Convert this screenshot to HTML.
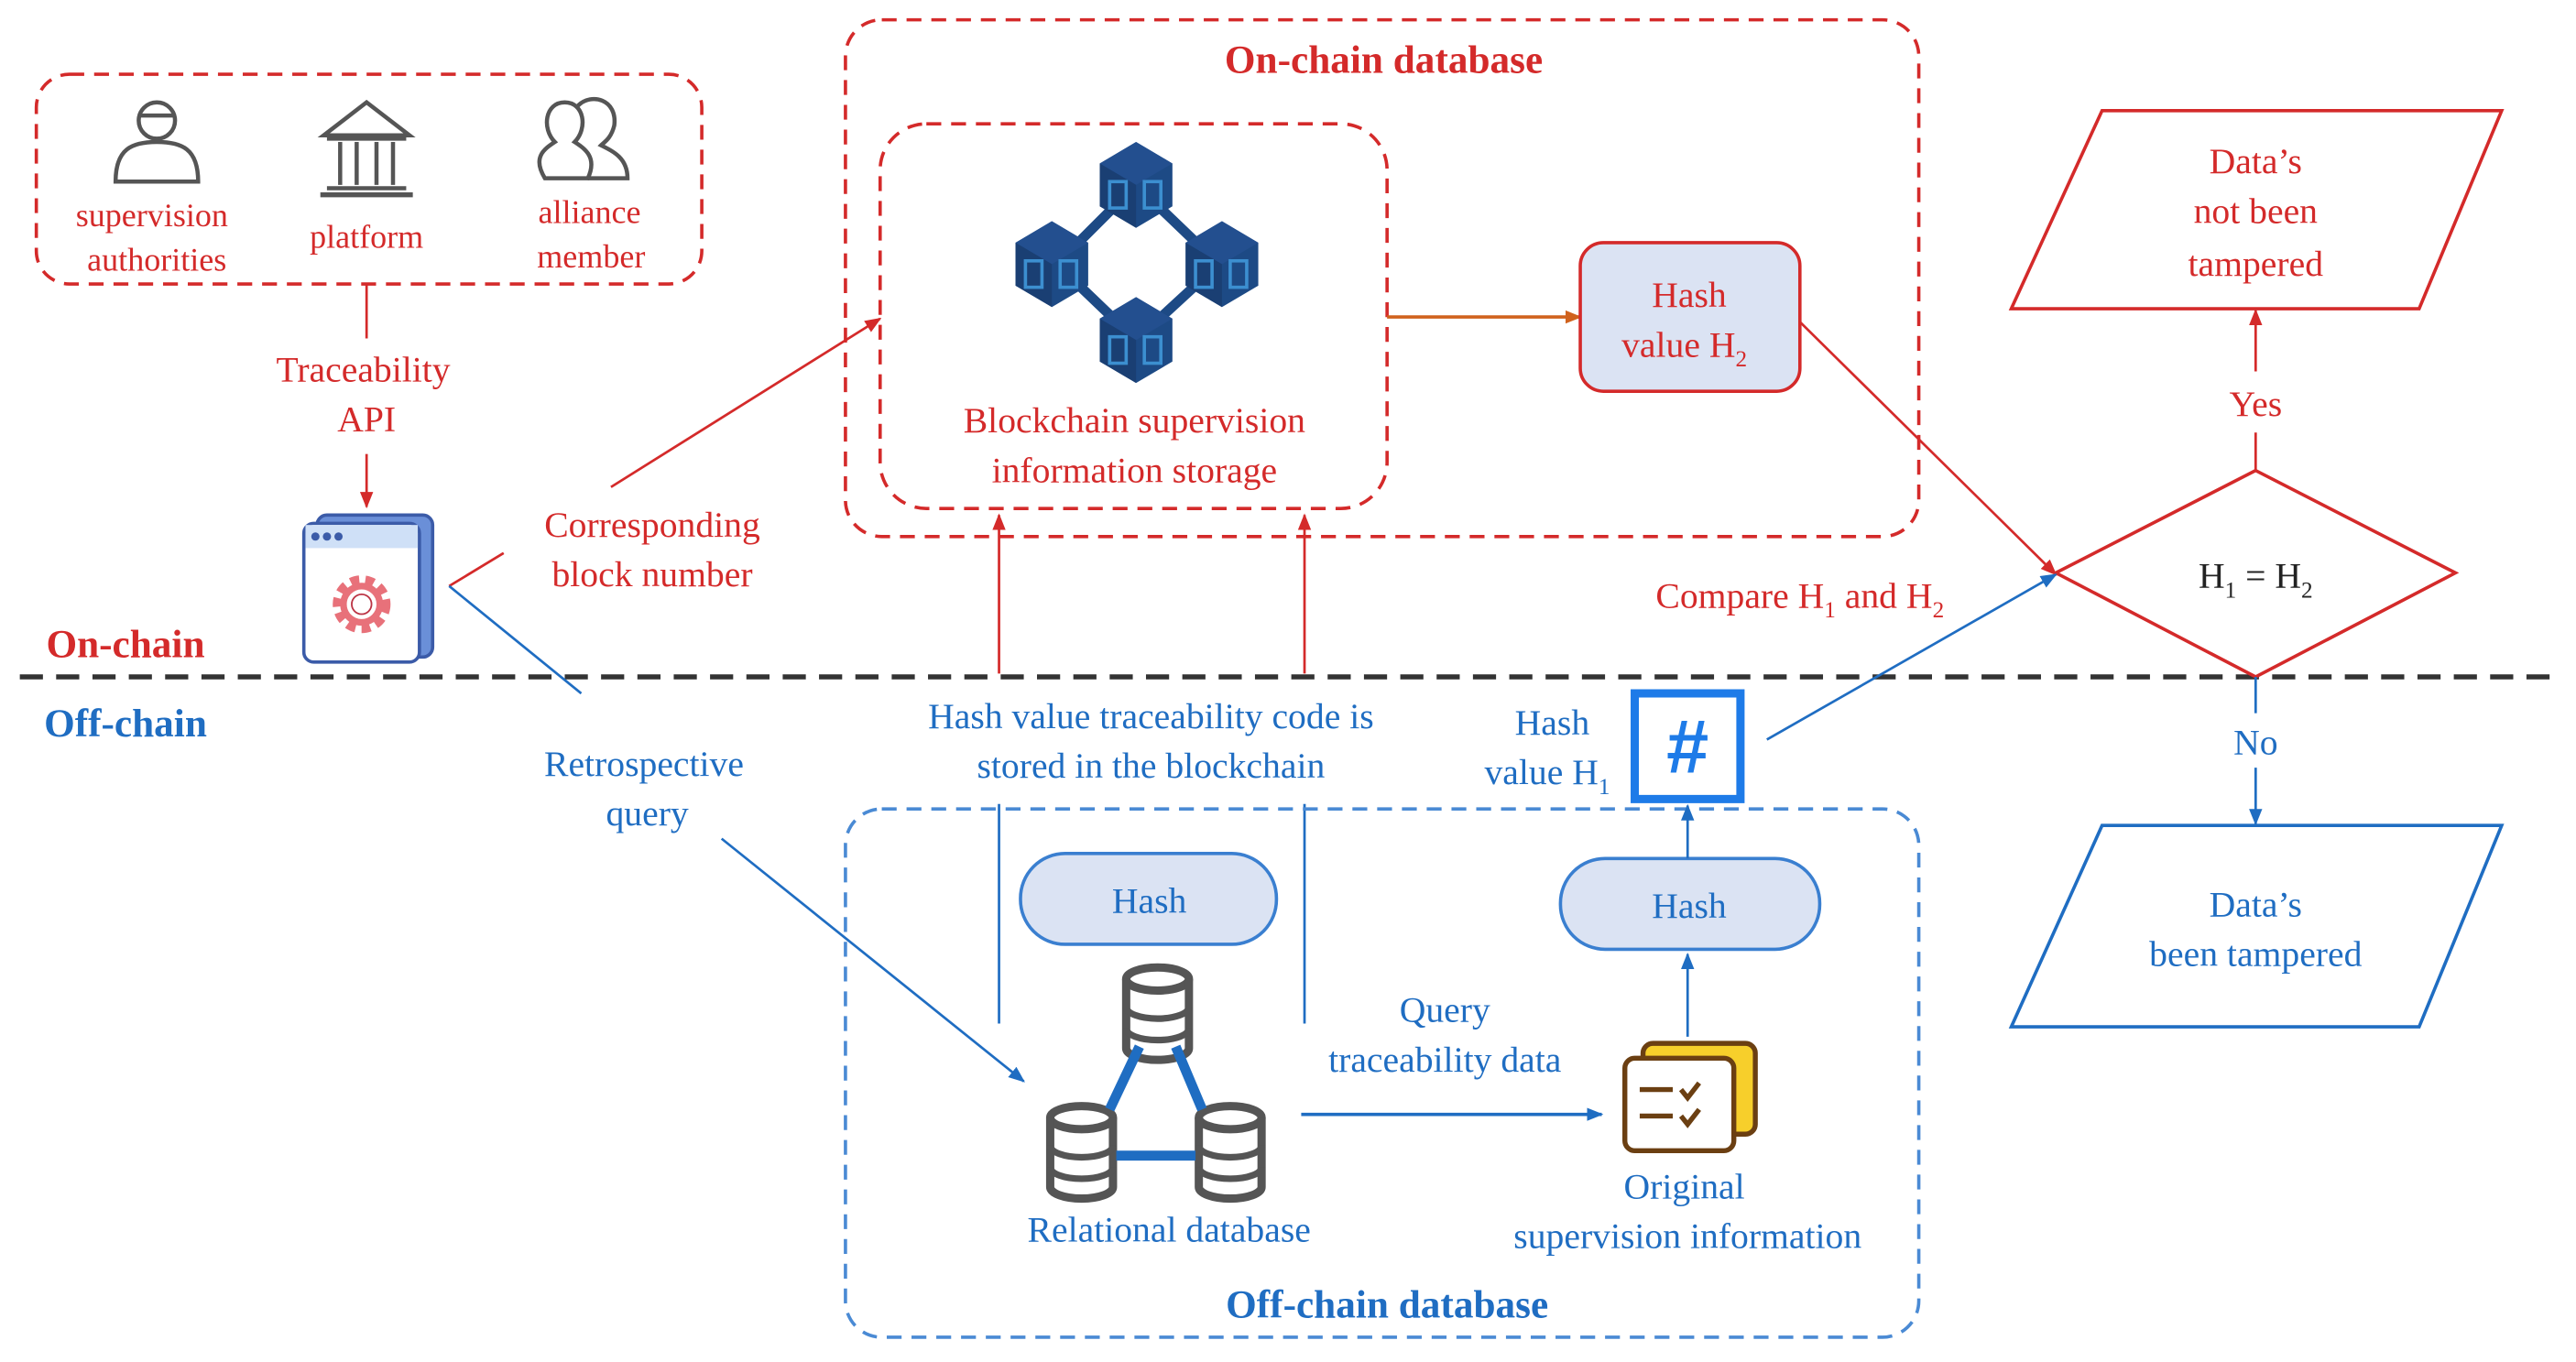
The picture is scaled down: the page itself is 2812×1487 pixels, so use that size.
<!DOCTYPE html>
<html><head><meta charset="utf-8"><style>
html,body{margin:0;padding:0;background:#fff}
svg{display:block}
text{font-family:"Liberation Serif",serif;font-size:22px;text-anchor:middle}
.r{fill:#d42a2a}.b{fill:#1f6dc2}
</style></head><body>
<svg width="2812" height="1487" viewBox="0 0 1560 825" preserveAspectRatio="none" xmlns="http://www.w3.org/2000/svg">
<defs>
<marker id="ar" markerWidth="10" markerHeight="10" refX="9" refY="5" orient="auto" markerUnits="userSpaceOnUse"><path d="M0,1 L10,5 L0,9 z" fill="#d42a2a"/></marker>
<marker id="ab" markerWidth="10" markerHeight="10" refX="9" refY="5" orient="auto" markerUnits="userSpaceOnUse"><path d="M0,1 L10,5 L0,9 z" fill="#1f6dc2"/></marker>
<marker id="ao" markerWidth="10" markerHeight="10" refX="9" refY="5" orient="auto" markerUnits="userSpaceOnUse"><path d="M0,1 L10,5 L0,9 z" fill="#d0621d"/></marker>
<g id="cube"><path d="M0,-26 L22,-13 L22,13 L0,26 L-22,13 L-22,-13 z" fill="#1d4a85"/><path d="M0,-26 L22,-13 L0,0 L-22,-13z" fill="#234f8f"/><path d="M-22,-13 L0,0 L0,26 L-22,13z" fill="#1a3f73"/><rect x="-16" y="-2" width="10" height="16" fill="none" stroke="#3c8fd0" stroke-width="2"/><rect x="5" y="-2" width="10" height="16" fill="none" stroke="#3c8fd0" stroke-width="2"/></g>
<g id="db"><ellipse cx="0" cy="-20" rx="19" ry="7" fill="none" stroke="#555" stroke-width="5"/><path d="M-19,-20 V22 A19,7 0 0 0 19,22 V-20" fill="none" stroke="#555" stroke-width="5"/><path d="M-19,-3 A19,7 0 0 0 19,-3 M-19,10 A19,7 0 0 0 19,10" fill="none" stroke="#555" stroke-width="4"/></g>
</defs>

<!-- divider -->
<line x1="12" y1="410" x2="1552" y2="410" stroke="#333" stroke-width="3" stroke-dasharray="14,8"/>
<text x="76" y="398" class="r" style="font-weight:bold;font-size:24px">On-chain</text>
<text x="76" y="446" class="b" style="font-weight:bold;font-size:24px">Off-chain</text>

<!-- top-left actors -->
<rect x="22" y="45" width="403" height="127" rx="20" fill="none" stroke="#d42a2a" stroke-width="2" stroke-dasharray="9,6"/>
<g fill="none" stroke="#555" stroke-width="2.5">
<circle cx="95" cy="73" r="11"/><path d="M84,70 h22"/><path d="M70,110 C70,90 80,86 95,86 C110,86 120,90 120,110 z"/>
<path d="M196,82 L222,62 L248,82 z"/><path d="M198,84 h48 M206,86 v26 M216,86 v26 M228,86 v26 M238,86 v26 M198,114 h48"/><path d="M194,118 h56" stroke-width="3"/>
<path d="M330,108 C322,95 330,90 336,86 C328,78 330,62 342,62 C354,62 356,78 348,86 C354,90 362,95 356,108 z"/>
<path d="M350,64 C358,56 374,60 372,76 C370,84 366,86 364,88 C372,92 380,96 380,108 H356"/>
</g>
<text x="92" y="137" class="r" style="font-size:20px">supervision</text>
<text x="95" y="164" class="r" style="font-size:20px">authorities</text>
<text x="222" y="150" class="r" style="font-size:20px">platform</text>
<text x="357" y="135" class="r" style="font-size:20px">alliance</text>
<text x="358" y="162" class="r" style="font-size:20px">member</text>
<line x1="222" y1="172" x2="222" y2="205" stroke="#d42a2a" stroke-width="1.5"/>
<text x="220" y="231" class="r">Traceability</text>
<text x="222" y="261" class="r">API</text>
<line x1="222" y1="275" x2="222" y2="307" stroke="#d42a2a" stroke-width="1.5" marker-end="url(#ar)"/>

<!-- app icon -->
<rect x="192" y="312" width="70" height="86" rx="6" fill="#6a8fd8" stroke="#3b5ba8" stroke-width="2"/>
<rect x="184" y="317" width="70" height="84" rx="6" fill="#fff" stroke="#3b5ba8" stroke-width="2"/>
<rect x="185" y="318" width="68" height="14" fill="#cfe0f7"/>
<circle cx="191" cy="325" r="2.5" fill="#3b5ba8"/><circle cx="198" cy="325" r="2.5" fill="#3b5ba8"/><circle cx="205" cy="325" r="2.5" fill="#3b5ba8"/>
<circle cx="219" cy="366" r="14" fill="none" stroke="#e8717a" stroke-width="7" stroke-dasharray="5,3.5"/>
<circle cx="219" cy="366" r="11" fill="none" stroke="#e8717a" stroke-width="4"/>
<circle cx="219" cy="366" r="6" fill="#fff" stroke="#b34" stroke-width="1"/>

<line x1="272" y1="355" x2="305" y2="335" stroke="#d42a2a" stroke-width="1.5"/>
<text x="395" y="325" class="r">Corresponding</text>
<text x="395" y="355" class="r">block number</text>
<line x1="370" y1="295" x2="533" y2="193" stroke="#d42a2a" stroke-width="1.5" marker-end="url(#ar)"/>
<line x1="272" y1="355" x2="352" y2="420" stroke="#1f6dc2" stroke-width="1.5"/>
<text x="390" y="470" class="b">Retrospective</text>
<text x="392" y="500" class="b">query</text>
<line x1="437" y1="508" x2="620" y2="655" stroke="#1f6dc2" stroke-width="1.5" marker-end="url(#ab)"/>

<!-- on-chain db -->
<rect x="512" y="12" width="650" height="313" rx="22" fill="none" stroke="#d42a2a" stroke-width="2" stroke-dasharray="9,6"/>
<text x="838" y="44" class="r" style="font-weight:bold;font-size:24px">On-chain database</text>
<rect x="533" y="75" width="307" height="233" rx="28" fill="none" stroke="#d42a2a" stroke-width="2" stroke-dasharray="9,6"/>
<path d="M688,112 L640,160 L688,206 L738,160 z" fill="none" stroke="#1d4a85" stroke-width="6"/>
<use href="#cube" x="688" y="112"/><use href="#cube" x="637" y="160"/><use href="#cube" x="740" y="160"/><use href="#cube" x="688" y="206"/>
<text x="687" y="262" class="r">Blockchain supervision</text>
<text x="687" y="292" class="r">information storage</text>
<line x1="840" y1="192" x2="957" y2="192" stroke="#d0621d" stroke-width="2" marker-end="url(#ao)"/>
<rect x="957" y="147" width="133" height="90" rx="14" fill="#dbe3f3" stroke="#d42a2a" stroke-width="2"/>
<text x="1023" y="186" class="r">Hash</text>
<text x="1020" y="216" class="r">value H<tspan dy="6" style="font-size:14px">2</tspan></text>
<line x1="1090" y1="195" x2="1245" y2="348" stroke="#d42a2a" stroke-width="1.5" marker-end="url(#ar)"/>
<text x="1090" y="368" class="r">Compare H<tspan dy="6" style="font-size:14px">1</tspan><tspan dy="-6"> and H</tspan><tspan dy="6" style="font-size:14px">2</tspan></text>

<!-- decision -->
<path d="M1366,285 L1487,347 L1366,410 L1245,347 z" fill="#fff" stroke="#d42a2a" stroke-width="2"/>
<text x="1366" y="356" fill="#222">H<tspan dy="6" style="font-size:14px">1</tspan><tspan dy="-6"> = H</tspan><tspan dy="6" style="font-size:14px">2</tspan></text>
<line x1="1366" y1="285" x2="1366" y2="262" stroke="#d42a2a" stroke-width="1.5"/>
<text x="1366" y="252" class="r">Yes</text>
<line x1="1366" y1="225" x2="1366" y2="188" stroke="#d42a2a" stroke-width="1.5" marker-end="url(#ar)"/>
<path d="M1273,67 L1515,67 L1465,187 L1218,187 z" fill="#fff" stroke="#d42a2a" stroke-width="2"/>
<text x="1366" y="105" class="r">Data’s</text>
<text x="1366" y="135" class="r">not been</text>
<text x="1366" y="167" class="r">tampered</text>
<line x1="1366" y1="410" x2="1366" y2="432" stroke="#1f6dc2" stroke-width="1.5"/>
<text x="1366" y="457" class="b">No</text>
<line x1="1366" y1="465" x2="1366" y2="499" stroke="#1f6dc2" stroke-width="1.5" marker-end="url(#ab)"/>
<path d="M1273,500 L1515,500 L1465,622 L1218,622 z" fill="#fff" stroke="#1f6dc2" stroke-width="2"/>
<text x="1366" y="555" class="b">Data’s</text>
<text x="1366" y="585" class="b">been tampered</text>

<!-- vertical connectors -->
<line x1="605" y1="408" x2="605" y2="312" stroke="#d42a2a" stroke-width="1.5" marker-end="url(#ar)"/>
<line x1="790" y1="408" x2="790" y2="312" stroke="#d42a2a" stroke-width="1.5" marker-end="url(#ar)"/>
<text x="697" y="441" class="b">Hash value traceability code is</text>
<text x="697" y="471" class="b">stored in the blockchain</text>
<line x1="605" y1="487" x2="605" y2="620" stroke="#1f6dc2" stroke-width="1.5"/>
<line x1="790" y1="487" x2="790" y2="620" stroke="#1f6dc2" stroke-width="1.5"/>

<!-- off-chain db -->
<rect x="512" y="490" width="650" height="320" rx="22" fill="none" stroke="#4a8ad4" stroke-width="2" stroke-dasharray="9,6"/>
<text x="840" y="798" class="b" style="font-weight:bold;font-size:24px">Off-chain database</text>
<rect x="618" y="517" width="155" height="55" rx="27" fill="#dbe3f3" stroke="#3a7fd0" stroke-width="2"/>
<text x="696" y="553" class="b">Hash</text>
<use href="#db" x="701" y="613"/><use href="#db" x="655" y="697"/><use href="#db" x="745" y="697"/>
<path d="M690,634 L672,672 M712,634 L728,672 M676,700 H724" stroke="#1f6dc2" stroke-width="6"/>
<text x="708" y="752" class="b">Relational database</text>
<line x1="788" y1="675" x2="970" y2="675" stroke="#1f6dc2" stroke-width="2" marker-end="url(#ab)"/>
<text x="875" y="619" class="b">Query</text>
<text x="875" y="649" class="b">traceability data</text>
<rect x="995" y="632" width="68" height="55" rx="6" fill="#f7cf2b" stroke="#6b3f12" stroke-width="3"/>
<rect x="984" y="641" width="66" height="56" rx="6" fill="#fff" stroke="#6b3f12" stroke-width="3"/>
<path d="M993,660 h20 M993,676 h20 M1018,660 l4,5 l7,-9 M1018,676 l4,5 l7,-9" stroke="#6b3f12" stroke-width="3" fill="none"/>
<text x="1020" y="726" class="b">Original</text>
<text x="1022" y="756" class="b">supervision information</text>
<line x1="1022" y1="628" x2="1022" y2="578" stroke="#1f6dc2" stroke-width="1.5" marker-end="url(#ab)"/>
<rect x="945" y="520" width="157" height="55" rx="27" fill="#dbe3f3" stroke="#3a7fd0" stroke-width="2"/>
<text x="1023" y="556" class="b">Hash</text>
<line x1="1022" y1="520" x2="1022" y2="488" stroke="#1f6dc2" stroke-width="1.5" marker-end="url(#ab)"/>
<rect x="990" y="420" width="64" height="64" fill="#fff" stroke="#1e7be8" stroke-width="5"/>
<text x="1022" y="468" style="font-family:'Liberation Sans',sans-serif;font-weight:bold;font-size:46px;fill:#1e7be8">#</text>
<text x="940" y="445" class="b">Hash</text>
<text x="937" y="475" class="b">value H<tspan dy="6" style="font-size:14px">1</tspan></text>
<line x1="1070" y1="448" x2="1245" y2="348" stroke="#1f6dc2" stroke-width="1.5" marker-end="url(#ab)"/>
</svg>
</body></html>
